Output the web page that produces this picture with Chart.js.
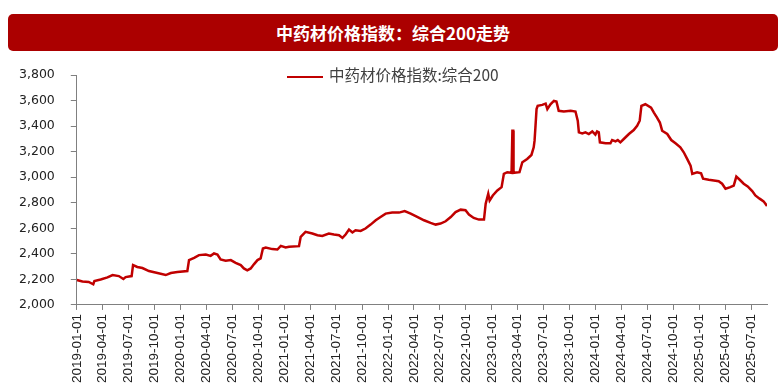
<!DOCTYPE html>
<html>
<head>
<meta charset="utf-8">
<script src="https://cdn.jsdelivr.net/npm/chart.js@4.4.0/dist/chart.umd.min.js"></script>
<style>
  body { margin: 0; width: 783px; height: 388px; background: #fff; position: relative; overflow: hidden; }
  #banner {
    position: absolute; left: 8px; top: 14px; width: 770px; height: 37px;
    background: #AB0000; border-radius: 5px; color: #fff; text-align: center;
    font: bold 17px "Noto Sans CJK SC", sans-serif; line-height: 37px;
  }
  #legend {
    position: absolute; left: 287px; top: 63px; height: 22px; line-height: 22px;
    font: 15.5px "Noto Sans CJK SC", sans-serif; color: #404040; white-space: nowrap;
  }
  #legend .swatch { display: inline-block; width: 36px; height: 2.5px; background: #C00000; vertical-align: middle; margin-right: 6px; }
  #wrap { position: absolute; left: 0; top: 0; width: 783px; height: 388px; }
</style>
</head>
<body>
<div id="wrap"><canvas id="chart"></canvas></div>
<div id="banner">中药材价格指数：综合200走势</div>
<div id="legend"><span class="swatch"></span><span id="legendText"></span></div>
<script>
const seriesName = '中药材价格指数:综合200';

const dates = [
  '2019-01-01', '2019-01-21', '2019-02-12', '2019-02-28', '2019-03-04', '2019-03-26', '2019-04-19', '2019-05-07',
  '2019-05-29', '2019-06-14', '2019-06-22', '2019-07-13', '2019-07-18', '2019-08-02', '2019-08-20', '2019-09-12',
  '2019-10-12', '2019-11-10', '2019-11-28', '2019-12-21', '2020-01-25', '2020-01-31', '2020-02-18', '2020-03-06',
  '2020-03-30', '2020-04-16', '2020-04-28', '2020-05-10', '2020-05-21', '2020-06-08', '2020-06-26', '2020-07-13',
  '2020-07-31', '2020-08-11', '2020-08-23', '2020-09-04', '2020-09-16', '2020-09-28', '2020-10-09', '2020-10-17',
  '2020-10-27', '2020-11-19', '2020-12-07', '2020-12-19', '2021-01-05', '2021-01-17', '2021-02-21', '2021-02-27',
  '2021-03-16', '2021-04-09', '2021-04-27', '2021-05-14', '2021-06-06', '2021-06-24', '2021-07-12', '2021-07-24',
  '2021-08-04', '2021-08-16', '2021-08-28', '2021-09-08', '2021-09-26', '2021-10-13', '2021-10-31', '2021-11-18',
  '2021-12-05', '2021-12-23', '2022-01-15', '2022-02-08', '2022-02-28', '2022-03-21', '2022-04-13', '2022-05-07',
  '2022-05-30', '2022-06-17', '2022-07-04', '2022-07-22', '2022-08-09', '2022-08-26', '2022-09-13', '2022-09-30',
  '2022-10-12', '2022-10-29', '2022-11-16', '2022-12-04', '2022-12-10', '2022-12-19', '2022-12-24', '2023-01-04',
  '2023-01-20', '2023-02-04', '2023-02-12', '2023-02-24', '2023-03-11', '2023-03-14', '2023-03-17', '2023-03-18',
  '2023-04-08', '2023-04-18', '2023-05-05', '2023-05-20', '2023-05-28', '2023-05-31', '2023-06-03', '2023-06-07',
  '2023-06-11', '2023-06-27', '2023-07-09', '2023-07-15', '2023-07-26', '2023-08-07', '2023-08-16', '2023-08-24',
  '2023-09-11', '2023-10-05', '2023-10-22', '2023-10-30', '2023-11-03', '2023-11-15', '2023-11-26', '2023-12-08',
  '2023-12-20', '2023-12-31', '2024-01-06', '2024-01-12', '2024-01-16', '2024-02-05', '2024-02-22', '2024-02-28',
  '2024-03-11', '2024-03-19', '2024-03-28', '2024-04-09', '2024-04-27', '2024-05-14', '2024-05-26', '2024-06-04',
  '2024-06-10', '2024-06-24', '2024-07-14', '2024-07-24', '2024-08-04', '2024-08-14', '2024-08-22', '2024-09-09',
  '2024-09-23', '2024-10-08', '2024-10-25', '2024-11-06', '2024-11-18', '2024-11-30', '2024-12-06', '2024-12-23',
  '2025-01-06', '2025-01-13', '2025-02-02', '2025-02-20', '2025-03-09', '2025-03-21', '2025-04-02', '2025-04-19',
  '2025-05-01', '2025-05-10', '2025-05-22', '2025-06-05', '2025-06-19', '2025-07-05', '2025-07-16', '2025-07-31',
  '2025-08-14', '2025-08-26'
];

const values = [
  2195, 2183, 2180, 2162, 2187, 2199, 2216, 2234,
  2226, 2203, 2218, 2226, 2312, 2297, 2289, 2265,
  2250, 2234, 2250, 2258, 2265, 2351, 2369, 2390,
  2395, 2384, 2403, 2395, 2357, 2346, 2351, 2330,
  2312, 2286, 2271, 2286, 2320, 2351, 2364, 2442,
  2450, 2437, 2434, 2462, 2450, 2455, 2460, 2533,
  2572, 2559, 2546, 2540, 2559, 2551, 2546, 2525,
  2551, 2590, 2567, 2585, 2579, 2598, 2629, 2663,
  2688, 2715, 2723, 2723, 2735, 2715, 2690, 2663,
  2642, 2629, 2637, 2655, 2688, 2727, 2746, 2741,
  2707, 2681, 2668, 2668, 2793, 2871, 2818, 2857,
  2896, 2922, 3026, 3039, 3034, 3364, 3364, 3034,
  3039, 3117, 3143, 3174, 3234, 3286, 3390, 3533,
  3559, 3566, 3576, 3533, 3571, 3597, 3592, 3520,
  3514, 3520, 3514, 3442, 3351, 3343, 3351, 3338,
  3358, 3333, 3358, 3351, 3273, 3265, 3265, 3291,
  3280, 3291, 3273, 3299, 3338, 3369, 3403, 3442,
  3559, 3571, 3545, 3506, 3467, 3428, 3364, 3338,
  3291, 3265, 3234, 3195, 3143, 3091, 3026, 3039,
  3031, 2988, 2980, 2974, 2969, 2949, 2910, 2922,
  2935, 3005, 2980, 2949, 2928, 2891, 2857, 2832,
  2811, 2775
];

const tickDates = [
  '2019-01-01', '2019-04-01', '2019-07-01', '2019-10-01', '2020-01-01', '2020-04-01', '2020-07-01',
  '2020-10-01', '2021-01-01', '2021-04-01', '2021-07-01', '2021-10-01', '2022-01-01', '2022-04-01',
  '2022-07-01', '2022-10-01', '2023-01-01', '2023-04-01', '2023-07-01', '2023-10-01', '2024-01-01',
  '2024-04-01', '2024-07-01', '2024-10-01', '2025-01-01', '2025-04-01', '2025-07-01'
];

const yMin = 2000, yMax = 3800, yStep = 200;

// days since first date, used as a linear x value
const origin = Date.UTC(2019, 0, 1);
function dayOf(s) {
  const p = s.split('-').map(Number);
  return (Date.UTC(p[0], p[1] - 1, p[2]) - origin) / 86400000;
}

const points = dates.map((d, i) => ({ x: dayOf(d), y: values[i] }));
const tickDays = tickDates.map(dayOf);

document.getElementById('legendText').textContent = seriesName;

const axisColor = '#808080';

new Chart(document.getElementById('chart'), {
  type: 'line',
  data: {
    datasets: [{
      label: seriesName,
      data: points,
      borderColor: '#C00000',
      borderWidth: 2.5,
      pointRadius: 0,
      tension: 0,
      fill: false
    }]
  },
  options: {
    responsive: true,
    maintainAspectRatio: false,
    animation: false,
    layout: { padding: { top: 75, left: 3, right: 16, bottom: 1 } },
    plugins: {
      legend: { display: false },
      tooltip: { enabled: false }
    },
    scales: {
      x: {
        type: 'linear',
        min: 0,
        max: dayOf(dates[dates.length - 1]),
        afterBuildTicks: (scale) => {
          scale.ticks = tickDays.map(v => ({ value: v }));
        },
        grid: { drawOnChartArea: false, drawTicks: true, tickLength: 5, color: axisColor },
        border: { color: axisColor },
        ticks: {
          autoSkip: false,
          minRotation: 90,
          maxRotation: 90,
          padding: 4,
          color: '#222',
          font: { family: '"Liberation Sans", Arial, sans-serif', size: 13.5 },
          callback: (v, i) => tickDates[i]
        }
      },
      y: {
        min: yMin,
        max: yMax,
        grid: { drawOnChartArea: false, drawTicks: true, tickLength: 6, color: axisColor },
        border: { color: axisColor },
        ticks: {
          stepSize: yStep,
          padding: 16,
          color: '#222',
          font: { family: '"DejaVu Sans", sans-serif', size: 12.5 },
          callback: v => v.toLocaleString('en-US')
        }
      }
    }
  }
});
</script>
</body>
</html>
